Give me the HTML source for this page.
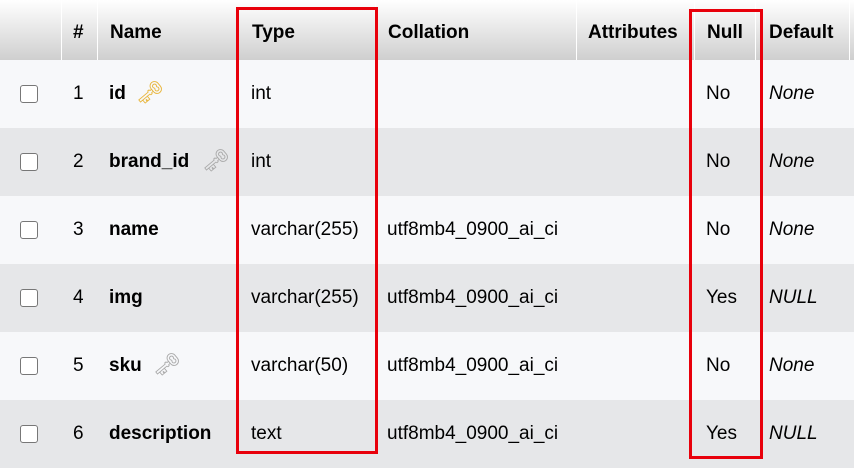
<!DOCTYPE html><html><head><style>
body{margin:0;width:854px;height:474px;overflow:hidden;background:#fff;font-family:"Liberation Sans",Arial,sans-serif;font-size:19px;color:#000;position:relative}
.hd{position:absolute;left:0;top:0;width:854px;height:60px;background:linear-gradient(#fff,#cfcfcf)}
.sep{position:absolute;top:0;width:1px;height:60px;background:#fff}
.r{position:absolute;left:0;width:854px;height:68px}
.t{position:absolute;white-space:nowrap}
.b{font-weight:bold}
.cb{position:absolute;left:20px;width:16px;height:16px;border:1.5px solid #777;border-radius:3px;background:#fff}
.red{position:absolute;border:3px solid #e8000b;box-sizing:border-box}
</style></head><body>
<div class="hd"></div>
<div class="sep" style="left:61px"></div><div class="sep" style="left:97px"></div><div class="sep" style="left:375px"></div><div class="sep" style="left:576px"></div><div class="sep" style="left:694px"></div><div class="sep" style="left:755px"></div><div class="sep" style="left:849px"></div>
<div class="t b" style="left:73px;top:22px">#</div>
<div class="t b" style="left:110px;top:22px">Name</div>
<div class="t b" style="left:252px;top:22px">Type</div>
<div class="t b" style="left:388px;top:22px">Collation</div>
<div class="t b" style="left:588px;top:22px">Attributes</div>
<div class="t b" style="left:707px;top:22px">Null</div>
<div class="t b" style="left:769px;top:22px">Default</div>

<div class="r" style="top:60px;background:#f7f8fa"></div>
<div class="r" style="top:128px;background:#e6e7e9"></div>
<div class="r" style="top:196px;background:#f7f8fa"></div>
<div class="r" style="top:264px;background:#e6e7e9"></div>
<div class="r" style="top:332px;background:#f7f8fa"></div>
<div class="r" style="top:400px;background:#e6e7e9"></div>

<div class="cb" style="top:85px"></div><div class="cb" style="top:153px"></div><div class="cb" style="top:221px"></div><div class="cb" style="top:289px"></div><div class="cb" style="top:357px"></div><div class="cb" style="top:425px"></div>

<div class="t" style="left:73px;top:83px">1</div><div class="t b" style="left:109px;top:83px">id</div><div class="t" style="left:136px;top:80px;color:#e8b53a;font-size:22px">&#x1F5DD;</div>
<div class="t" style="left:251px;top:83px">int</div><div class="t" style="left:706px;top:83px">No</div><div class="t" style="left:769px;top:83px;font-style:italic">None</div>

<div class="t" style="left:73px;top:151px">2</div><div class="t b" style="left:109px;top:151px">brand_id</div><div class="t" style="left:202px;top:148px;color:#aaa;font-size:22px">&#x1F5DD;</div>
<div class="t" style="left:251px;top:151px">int</div><div class="t" style="left:706px;top:151px">No</div><div class="t" style="left:769px;top:151px;font-style:italic">None</div>

<div class="t" style="left:73px;top:219px">3</div><div class="t b" style="left:109px;top:219px">name</div>
<div class="t" style="left:251px;top:219px">varchar(255)</div><div class="t" style="left:387px;top:219px">utf8mb4_0900_ai_ci</div><div class="t" style="left:706px;top:219px">No</div><div class="t" style="left:769px;top:219px;font-style:italic">None</div>

<div class="t" style="left:73px;top:287px">4</div><div class="t b" style="left:109px;top:287px">img</div>
<div class="t" style="left:251px;top:287px">varchar(255)</div><div class="t" style="left:387px;top:287px">utf8mb4_0900_ai_ci</div><div class="t" style="left:706px;top:287px">Yes</div><div class="t" style="left:769px;top:287px;font-style:italic">NULL</div>

<div class="t" style="left:73px;top:355px">5</div><div class="t b" style="left:109px;top:355px">sku</div><div class="t" style="left:153px;top:352px;color:#aaa;font-size:22px">&#x1F5DD;</div>
<div class="t" style="left:251px;top:355px">varchar(50)</div><div class="t" style="left:387px;top:355px">utf8mb4_0900_ai_ci</div><div class="t" style="left:706px;top:355px">No</div><div class="t" style="left:769px;top:355px;font-style:italic">None</div>

<div class="t" style="left:73px;top:423px">6</div><div class="t b" style="left:109px;top:423px">description</div>
<div class="t" style="left:251px;top:423px">text</div><div class="t" style="left:387px;top:423px">utf8mb4_0900_ai_ci</div><div class="t" style="left:706px;top:423px">Yes</div><div class="t" style="left:769px;top:423px;font-style:italic">NULL</div>

<div class="red" style="left:236px;top:7px;width:142px;height:447px"></div>
<div class="red" style="left:689px;top:9px;width:74px;height:450px"></div>
</body></html>
